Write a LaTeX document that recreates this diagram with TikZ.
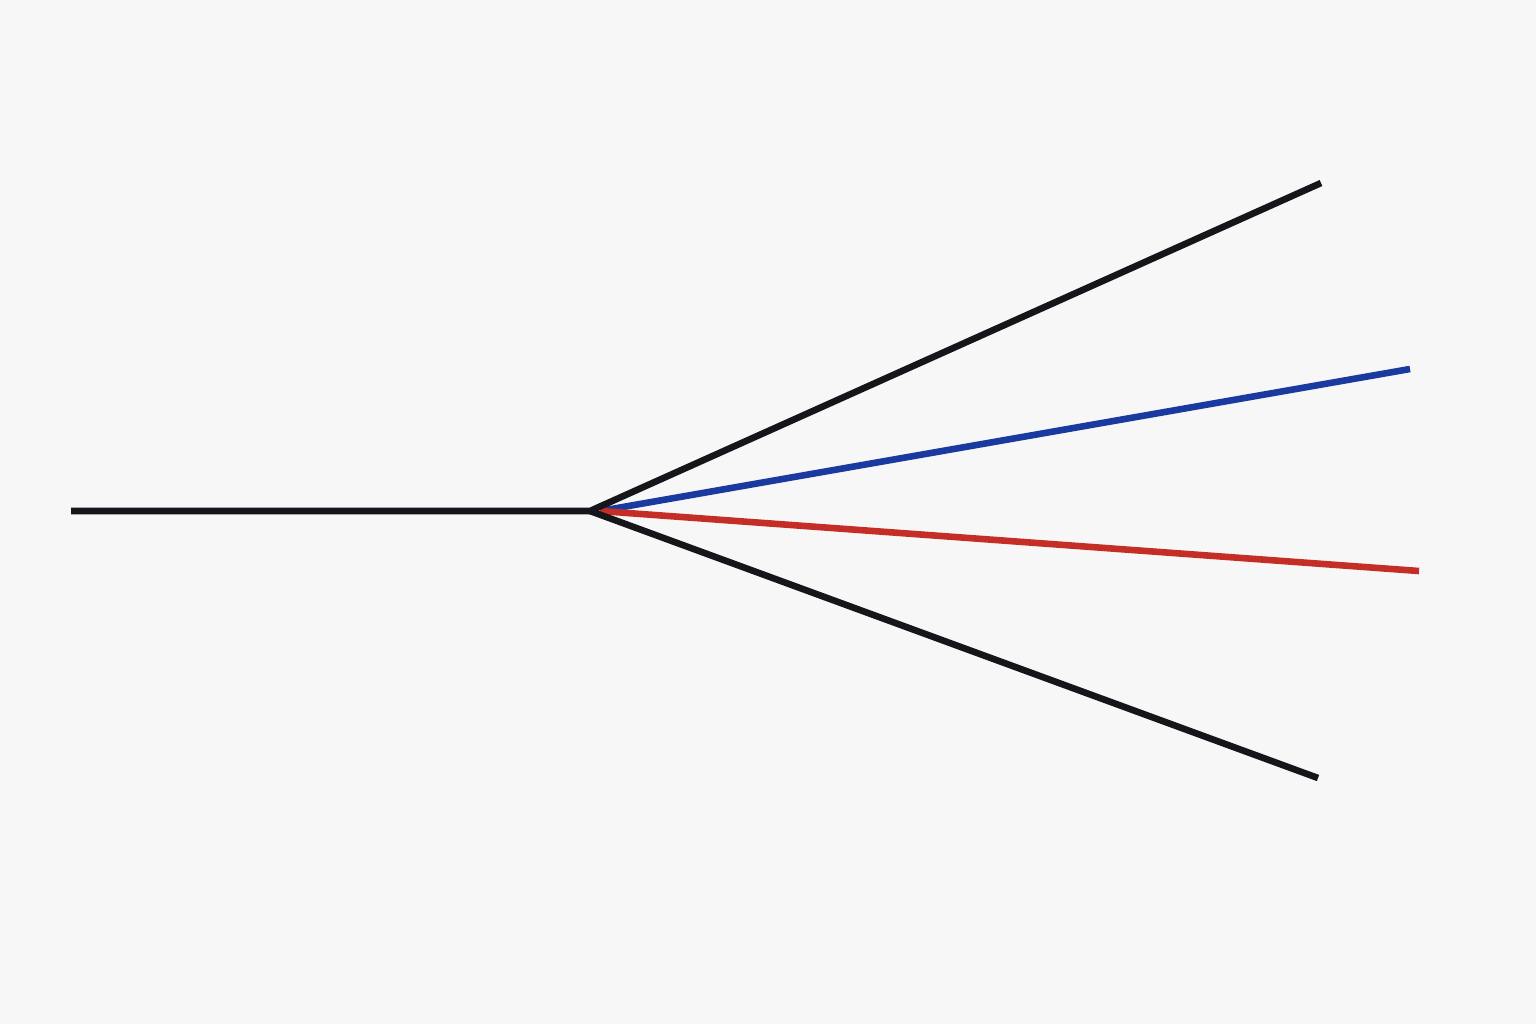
\documentclass[tikz,border=0pt]{standalone}
\definecolor{bg}{HTML}{F7F7F7}
\definecolor{ink}{HTML}{16161A}
\definecolor{blueline}{HTML}{1B3AA0}
\definecolor{redline}{HTML}{C42E26}
\begin{document}
\begin{tikzpicture}[x=0.5pt,y=-0.5pt,
  wire/.style={line width=3.3pt,line cap=butt}]
\fill[bg] (0,0) rectangle (1536,1024);
\useasboundingbox (0,0) rectangle (1536,1024);
\coordinate (start) at (71,511);
\coordinate (hub) at (590,511);
\coordinate (hubc) at (600,511);
\coordinate (topend) at (1321,183);
\coordinate (blueend) at (1410,369);
\coordinate (redend) at (1419,571);
\coordinate (botend) at (1318,778);
\draw[wire,blueline] (hubc) -- (blueend);
\draw[wire,redline] (hubc) -- (redend);
\draw[wire,ink,line join=miter] (start) -- (hub) -- (topend);
\draw[wire,ink] (hub) -- (botend);
\end{tikzpicture}
\end{document}
